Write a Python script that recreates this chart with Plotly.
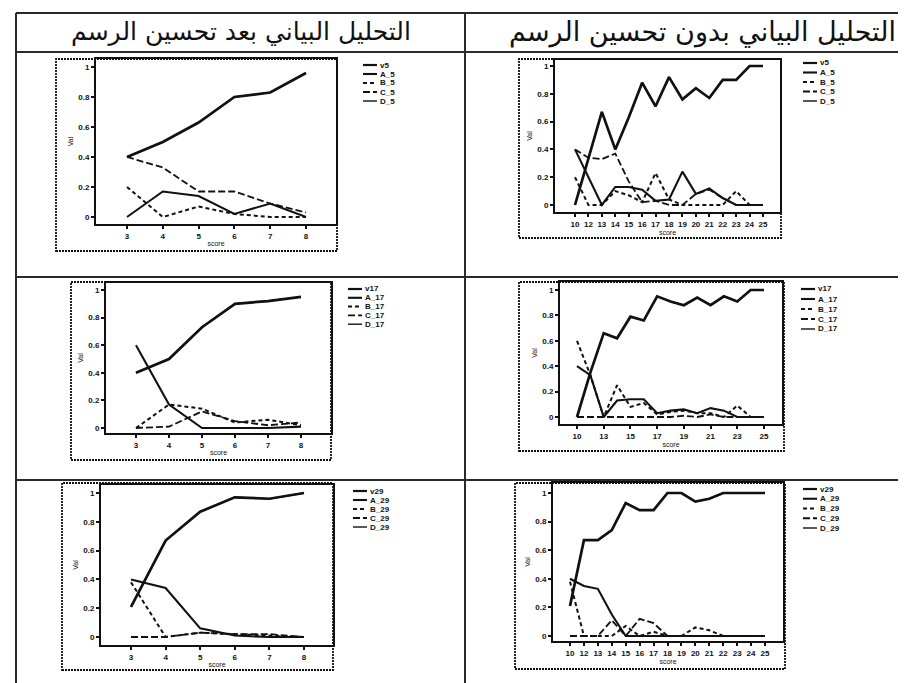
import plotly.graph_objects as go

W, H = 906, 683

# ---------------- text ----------------
header_left = "التحليل البياني بعد تحسين الرسم"
header_right = "التحليل البياني بدون تحسين الرسم"
x_title = "score"
y_title = "Val"

# ---------------- data ----------------
x_left = [3, 4, 5, 6, 7, 8]
x_right = ["10", "12", "13", "14", "15", "16", "17", "18", "19", "20", "21", "22", "23", "24", "25"]
x_right_ticks_mid = ["10", "13", "15", "17", "19", "21", "23", "25"]
y_ticks = [0, 0.2, 0.4, 0.6, 0.8, 1]
y_ticktext = ["0", "0.2", "0.4", "0.6", "0.8", "1"]

# top-left (after improvement, item 5)
tl_names = ["v5", "A_5", "B_5", "C_5", "D_5"]
tl_v = [0.40, 0.50, 0.63, 0.80, 0.83, 0.96]
tl_A = [0.00, 0.17, 0.14, 0.02, 0.09, 0.00]
tl_B = [0.20, 0.00, 0.07, 0.02, 0.00, 0.00]
tl_C = [0.40, 0.33, 0.17, 0.17, 0.09, 0.03]
tl_D = [0.40, 0.50, 0.63, 0.80, 0.83, 0.96]

# top-right (before improvement, item 5)
tr_names = ["v5", "A_5", "B_5", "C_5", "D_5"]
tr_v = [0.00, 0.33, 0.67, 0.40, 0.63, 0.88, 0.71, 0.92, 0.76, 0.84, 0.77, 0.90, 0.90, 1.00, 1.00]
tr_A = [0.40, 0.20, 0.00, 0.13, 0.13, 0.11, 0.03, 0.04, 0.24, 0.08, 0.12, 0.05, 0.00, 0.00, 0.00]
tr_B = [0.20, 0.00, 0.00, 0.10, 0.07, 0.02, 0.23, 0.04, 0.00, 0.00, 0.00, 0.00, 0.10, 0.00, 0.00]
tr_C = [0.40, 0.34, 0.33, 0.37, 0.17, 0.02, 0.03, 0.00, 0.00, 0.08, 0.11, 0.05, 0.00, 0.00, 0.00]
tr_D = [0.00, 0.33, 0.67, 0.40, 0.63, 0.88, 0.71, 0.92, 0.76, 0.84, 0.77, 0.90, 0.90, 1.00, 1.00]

# middle-left (after improvement, item 17)
ml_names = ["v17", "A_17", "B_17", "C_17", "D_17"]
ml_v = [0.40, 0.50, 0.73, 0.90, 0.92, 0.95]
ml_A = [0.60, 0.17, 0.00, 0.00, 0.00, 0.01]
ml_B = [0.00, 0.17, 0.14, 0.04, 0.06, 0.02]
ml_C = [0.00, 0.01, 0.12, 0.05, 0.02, 0.04]
ml_D = [0.40, 0.50, 0.73, 0.90, 0.92, 0.95]

# middle-right (before improvement, item 17)
mr_names = ["v17", "A_17", "B_17", "C_17", "D_17"]
mr_v = [0.00, 0.35, 0.66, 0.62, 0.79, 0.76, 0.95, 0.91, 0.88, 0.94, 0.88, 0.95, 0.91, 1.00, 1.00]
mr_A = [0.40, 0.33, 0.00, 0.13, 0.14, 0.14, 0.03, 0.05, 0.06, 0.03, 0.07, 0.05, 0.00, 0.00, 0.00]
mr_B = [0.60, 0.33, 0.00, 0.25, 0.08, 0.11, 0.02, 0.04, 0.05, 0.03, 0.03, 0.00, 0.09, 0.00, 0.00]
mr_C = [0.00, 0.00, 0.00, 0.00, 0.00, 0.00, 0.00, 0.00, 0.01, 0.00, 0.02, 0.00, 0.00, 0.00, 0.00]
mr_D = [0.00, 0.35, 0.66, 0.62, 0.79, 0.76, 0.95, 0.91, 0.88, 0.94, 0.88, 0.95, 0.91, 1.00, 1.00]

# bottom-left (after improvement, item 29)
bl_names = ["v29", "A_29", "B_29", "C_29", "D_29"]
bl_v = [0.21, 0.67, 0.87, 0.97, 0.96, 1.00]
bl_A = [0.40, 0.34, 0.06, 0.01, 0.00, 0.00]
bl_B = [0.38, 0.00, 0.03, 0.02, 0.01, 0.00]
bl_C = [0.00, 0.00, 0.03, 0.02, 0.02, 0.00]
bl_D = [0.21, 0.67, 0.87, 0.97, 0.96, 1.00]

# bottom-right (before improvement, item 29)
br_names = ["v29", "A_29", "B_29", "C_29", "D_29"]
br_v = [0.21, 0.67, 0.67, 0.74, 0.93, 0.88, 0.88, 1.00, 1.00, 0.94, 0.96, 1.00, 1.00, 1.00, 1.00]
br_A = [0.40, 0.35, 0.33, 0.15, 0.00, 0.00, 0.00, 0.00, 0.00, 0.00, 0.00, 0.00, 0.00, 0.00, 0.00]
br_B = [0.38, 0.00, 0.00, 0.00, 0.07, 0.00, 0.03, 0.00, 0.00, 0.06, 0.04, 0.00, 0.00, 0.00, 0.00]
br_C = [0.00, 0.00, 0.00, 0.11, 0.00, 0.12, 0.09, 0.00, 0.00, 0.00, 0.00, 0.00, 0.00, 0.00, 0.00]
br_D = [0.21, 0.67, 0.67, 0.74, 0.93, 0.88, 0.88, 1.00, 1.00, 0.94, 0.96, 1.00, 1.00, 1.00, 1.00]

# ---------------- styles ----------------
INK = "#111111"
series_styles = [  # v, A, B, C, D
    dict(width=2.7, dash="solid"),
    dict(width=2.1, dash="solid"),
    dict(width=2.0, dash="4px,3px"),
    dict(width=1.8, dash="7px,3px"),
    dict(width=1.4, dash="solid"),
]
draw_order = [4, 1, 2, 3, 0]

# panel layout (pixels): plot box, outer dotted frame, x/y pixel anchors, legend origin
panels = [
    dict(x=x_left, cat=False, ser=[tl_v, tl_A, tl_B, tl_C, tl_D], names=tl_names,
         box=(88, 328, 51, 216), frame=(48, 329, 51, 243),
         xa=(0, 119, 5, 298), ya=(209, 59), leg=(355, 57, 9.0), xticks=x_left),
    dict(x=x_right, cat=True, ser=[tr_v, tr_A, tr_B, tr_C, tr_D], names=tr_names,
         box=(547, 772, 52, 204), frame=(511, 773, 51, 230),
         xa=(0, 567, 14, 755), ya=(197, 58), leg=(795, 55, 9.5), xticks=x_right),
    dict(x=x_left, cat=False, ser=[ml_v, ml_A, ml_B, ml_C, ml_D], names=ml_names,
         box=(98, 323, 275, 425), frame=(63, 323, 274, 452),
         xa=(0, 128, 5, 293), ya=(420, 282), leg=(340, 281, 8.8), xticks=x_left),
    dict(x=x_right, cat=True, ser=[mr_v, mr_A, mr_B, mr_C, mr_D], names=mr_names,
         box=(552, 774, 274, 416), frame=(511, 776, 274, 443),
         xa=(0, 569, 14, 756), ya=(409, 282), leg=(793, 281, 10.0), xticks=x_right_ticks_mid),
    dict(x=x_left, cat=False, ser=[bl_v, bl_A, bl_B, bl_C, bl_D], names=bl_names,
         box=(93, 325, 477, 637), frame=(54, 325, 475, 662),
         xa=(0, 123, 5, 296), ya=(629, 485), leg=(345, 483, 9.0), xticks=x_left),
    dict(x=x_right, cat=True, ser=[br_v, br_A, br_B, br_C, br_D], names=br_names,
         box=(545, 775, 475, 633), frame=(507, 777, 475, 661),
         xa=(0, 562, 14, 757), ya=(628, 485), leg=(795, 481, 9.75), xticks=x_right),
]

fig = go.Figure()
shapes = []
annotations = []


def px_x(p):
    return p / W


def px_y(p):
    return 1 - p / H


tick_font = dict(family="Liberation Sans", size=8, color=INK, weight="bold")
title_font = dict(family="Liberation Sans", size=7, color=INK)

for i, P in enumerate(panels):
    n = "" if i == 0 else str(i + 1)
    xref, yref = "x" + n, "y" + n
    L, R, T, B = P["box"]
    i0, p0, i1, p1 = P["xa"]
    if not P["cat"]:
        v0, v1 = P["x"][i0], P["x"][i1]
    else:
        v0, v1 = i0, i1
    sx = (p1 - p0) / (v1 - v0)
    xr = [v0 - (p0 - L) / sx, v1 + (R - p1) / sx]
    y0p, y1p = P["ya"]
    sy = (y0p - y1p) / 1.0
    yr = [0 - (B - y0p) / sy, 1 + (y1p - T) / sy]

    for k in draw_order:
        st = series_styles[k]
        fig.add_trace(go.Scatter(
            x=P["x"], y=P["ser"][k], mode="lines", name=P["names"][k],
            line=dict(color=INK, width=st["width"], dash=st["dash"]),
            xaxis=xref, yaxis=yref, showlegend=False, hoverinfo="skip"))

    xa = dict(domain=[px_x(L), px_x(R)], range=xr, anchor=yref,
              showline=True, mirror=True, linewidth=2, linecolor=INK,
              showgrid=False, zeroline=False, ticks="outside", ticklen=3,
              tickwidth=1.5, tickcolor=INK, tickfont=tick_font,
              tickvals=P["xticks"], tickangle=0,
              title=dict(text=x_title, font=title_font, standoff=2))
    if P["cat"]:
        xa["type"] = "category"
        xa["categoryorder"] = "array"
        xa["categoryarray"] = P["x"]
    ya = dict(domain=[px_y(B), px_y(T)], range=yr, anchor=xref,
              showline=True, mirror=True, linewidth=2, linecolor=INK,
              showgrid=False, zeroline=False, ticks="outside", ticklen=3,
              tickwidth=1.5, tickcolor=INK, tickfont=tick_font,
              tickvals=y_ticks, ticktext=y_ticktext,
              title=dict(text=y_title, font=title_font, standoff=4))
    fig.update_layout(**{"xaxis" + n: xa, "yaxis" + n: ya})

    # outer dotted chart frame
    fL, fR, fT, fB = P["frame"]
    shapes.append(dict(type="rect", xref="paper", yref="paper",
                       x0=px_x(fL), x1=px_x(fR), y0=px_y(fB), y1=px_y(fT),
                       line=dict(color=INK, width=1.8, dash="2px,1px"), layer="below"))

    # legend (line samples + labels)
    lx, ly, step = P["leg"]
    for k in range(5):
        st = series_styles[k]
        yy = ly + k * step
        shapes.append(dict(type="line", xref="paper", yref="paper",
                           x0=px_x(lx), x1=px_x(lx + 14), y0=px_y(yy), y1=px_y(yy),
                           line=dict(color=INK, width=min(st["width"], 2.2), dash=st["dash"])))
        annotations.append(dict(xref="paper", yref="paper", x=px_x(lx + 15), y=px_y(yy),
                                xanchor="left", yanchor="middle", showarrow=False,
                                text=P["names"][k],
                                font=dict(family="Liberation Sans", size=8, color=INK, weight="bold")))

# table grid
grid_col = "#2a2a2a"
for yy in [5, 44, 269, 472, 681]:
    shapes.append(dict(type="line", xref="paper", yref="paper",
                       x0=px_x(8), x1=px_x(903), y0=px_y(yy), y1=px_y(yy),
                       line=dict(color=grid_col, width=2)))
for xx in [8, 457, 903]:
    shapes.append(dict(type="line", xref="paper", yref="paper",
                       x0=px_x(xx), x1=px_x(xx), y0=px_y(5), y1=px_y(681),
                       line=dict(color=grid_col, width=2)))

# headers
annotations.append(dict(xref="paper", yref="paper", x=px_x(233), y=px_y(24),
                        xanchor="center", yanchor="middle", showarrow=False,
                        text=header_left, font=dict(family="DejaVu Sans", size=25, color=INK)))
annotations.append(dict(xref="paper", yref="paper", x=px_x(694), y=px_y(24),
                        xanchor="center", yanchor="middle", showarrow=False,
                        text=header_right, font=dict(family="DejaVu Sans", size=27, color=INK)))

fig.update_layout(width=W, height=H, margin=dict(l=0, r=0, t=0, b=0),
                  paper_bgcolor="white", plot_bgcolor="white",
                  shapes=shapes, annotations=annotations, showlegend=False)

fig.write_html("out.html")
